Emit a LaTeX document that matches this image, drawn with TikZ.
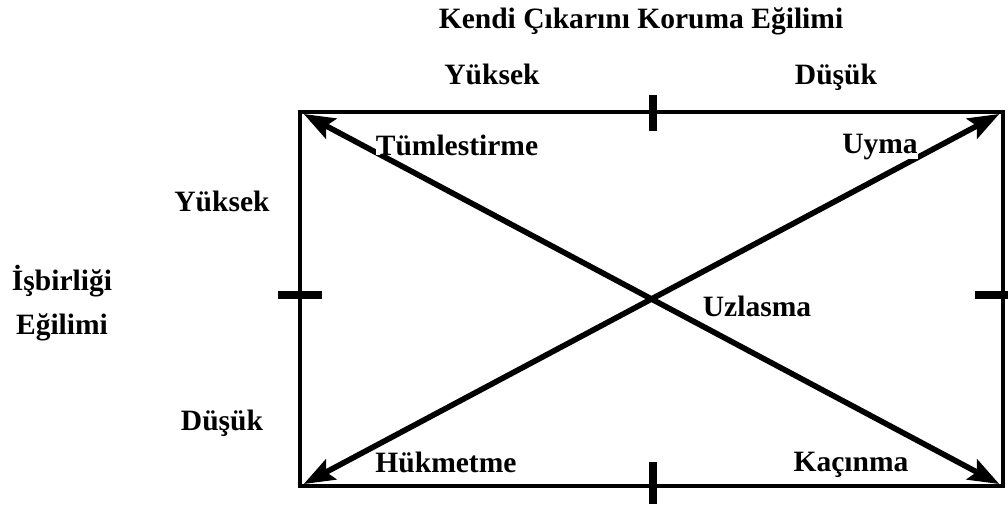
\documentclass[tikz,border=0pt]{standalone}
\usepackage{fontspec}
\setmainfont{Liberation Serif}
\usepackage{tikz}
\usetikzlibrary{arrows.meta}

\begin{document}
\begin{tikzpicture}[
    x=0.025cm, y=-0.025cm,
    >={Stealth[length=22pt,width=16pt,inset=4pt]},
    line width=3.2pt,
    lbl/.style={font=\fontsize{21}{31}\selectfont\bfseries, inner sep=1pt},
    style label/.style={lbl, fill=white, inner sep=0pt, anchor=base}
]
\useasboundingbox (0,0) rectangle (1008,508);

% Corners of the grid
\coordinate (tl) at (300,112);
\coordinate (tr) at (1003,112);
\coordinate (bl) at (300,486);
\coordinate (br) at (1003,486);

% Frame
\draw (tl) rectangle (br);

% Middle ticks
\draw[line width=6pt] (653,95) -- (653,131);
\draw[line width=6pt] (653,462) -- (653,504);
\draw[line width=6pt] (278,295) -- (322,295);
\draw[line width=6pt] (975,295) -- (1010,295);

% Diagonals
\draw[<->, line width=4pt, shorten <=3pt, shorten >=3pt] (tl) -- (br);
\draw[<->, line width=4pt, shorten <=3pt, shorten >=3pt] (bl) -- (tr);

% Axis titles
\node[lbl, anchor=base] (title) at (641,28) {Kendi Çıkarını Koruma Eğilimi};
\node[lbl, anchor=base] (topHigh) at (492,84) {Yüksek};
\node[lbl, anchor=base] (topLow) at (836,84) {Düşük};

\node[lbl, anchor=base] (leftHigh) at (222,211) {Yüksek};
\node[lbl, align=center] (coop) at (62,303) {İşbirliği\\Eğilimi};
\node[lbl, anchor=base] (leftLow) at (222,430) {Düşük};

% Styles
\node[style label] (integ) at (457,155) {Tümlestirme};
\node[style label] (oblig) at (880,153) {Uyma};
\node[style label] (compr) at (757,316) {Uzlasma};
\node[style label] (domin) at (446,472) {Hükmetme};
\node[style label] (avoid) at (851,471) {Kaçınma};
\end{tikzpicture}
\end{document}
